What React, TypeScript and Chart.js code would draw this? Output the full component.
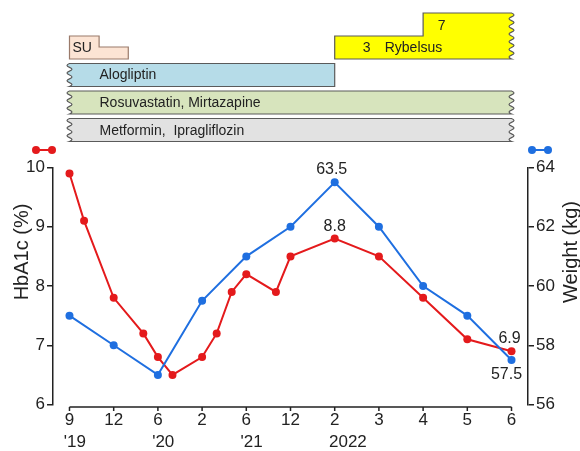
import React, { useEffect, useRef } from "react";
import { Chart, registerables } from "chart.js";

Chart.register(...registerables);

// ---- data ----
const monthTicks = ["9", "12", "6", "2", "6", "12", "2", "3", "4", "5", "6"];
const yearTicks = ["'19", "", "'20", "", "'21", "", "2022", "", "", "", ""];

const hba1cX = [0, 0.33, 1, 1.67, 2, 2.33, 3, 3.33, 3.67, 4, 4.67, 5, 6, 7, 8, 9, 10];
const hba1cValues = [9.9, 9.1, 7.8, 7.2, 6.8, 6.5, 6.8, 7.2, 7.9, 8.2, 7.9, 8.5, 8.8, 8.5, 7.8, 7.1, 6.9];

const weightX = [0, 1, 2, 3, 4, 5, 6, 7, 8, 9, 10];
const weightValues = [59, 58, 57, 59.5, 61, 62, 63.5, 62, 60, 59, 57.5];

const hba1cRange = [6, 10];
const weightRange = [56, 64];

const suPeriod = [0, 0.67, 1.33];
const rybelsusPeriod = [6, 8, 10];
const rybelsusDoses = ["3", "7"];
const alogliptinPeriod = [0, 6];
const continuingPeriod = [0, 10];

const RED = "#e41a1c";
const BLUE = "#1f6fe0";
const INK = "#222222";
const FONT = "'Liberation Sans', Arial, Helvetica, sans-serif";

function wave(ctx: CanvasRenderingContext2D, x: number, ya: number, yb: number) {
  const n = Math.max(2, Math.round(Math.abs(yb - ya) / 4));
  const h = (yb - ya) / n;
  for (let i = 0; i < n; i++) {
    const dir = i % 2 === 0 ? 1 : -1;
    ctx.quadraticCurveTo(x + dir * 5, ya + h * (i + 0.5), x, ya + h * (i + 1));
  }
}

function finish(ctx: CanvasRenderingContext2D, fill: string, stroke: string) {
  ctx.closePath();
  ctx.fillStyle = fill;
  ctx.fill();
  ctx.strokeStyle = stroke;
  ctx.lineWidth = 1.2;
  ctx.stroke();
}

const customPlugin = {
  id: "customDecor",
  beforeDatasetsDraw(chart: any) {
    const ctx: CanvasRenderingContext2D = chart.ctx;
    const xs = chart.scales.x;
    const area = chart.chartArea;
    const px = (v: number) => xs.getPixelForValue(v);
    ctx.save();

    // ---- medication bars ----
    const border = "#5a5a5a";
    // Metformin, Ipragliflozin
    {
      const x0 = px(continuingPeriod[0]), x1 = px(continuingPeriod[1]);
      const t = 118.5, b = 141.5;
      ctx.beginPath();
      ctx.moveTo(x0, t);
      ctx.lineTo(x1, t);
      wave(ctx, x1, t, b);
      ctx.lineTo(x0, b);
      wave(ctx, x0, b, t);
      finish(ctx, "#e2e2e2", border);
    }
    // Rosuvastatin, Mirtazapine
    {
      const x0 = px(continuingPeriod[0]), x1 = px(continuingPeriod[1]);
      const t = 91, b = 114;
      ctx.beginPath();
      ctx.moveTo(x0, t);
      ctx.lineTo(x1, t);
      wave(ctx, x1, t, b);
      ctx.lineTo(x0, b);
      wave(ctx, x0, b, t);
      finish(ctx, "#d7e4bd", border);
    }
    // Alogliptin
    {
      const x0 = px(alogliptinPeriod[0]), x1 = px(alogliptinPeriod[1]);
      const t = 63.5, b = 86.5;
      ctx.beginPath();
      ctx.moveTo(x0, t);
      ctx.lineTo(x1, t);
      ctx.lineTo(x1, b);
      ctx.lineTo(x0, b);
      wave(ctx, x0, b, t);
      finish(ctx, "#b6dce8", border);
    }
    // SU
    {
      const xa = px(suPeriod[0]), xb = px(suPeriod[1]), xc = px(suPeriod[2]);
      ctx.beginPath();
      ctx.moveTo(xa, 36);
      ctx.lineTo(xb, 36);
      ctx.lineTo(xb, 47);
      ctx.lineTo(xc, 47);
      ctx.lineTo(xc, 59);
      ctx.lineTo(xa, 59);
      finish(ctx, "#fce4d4", "#9a7a6a");
    }
    // Rybelsus
    {
      const xa = px(rybelsusPeriod[0]), xb = px(rybelsusPeriod[1]), xc = px(rybelsusPeriod[2]);
      ctx.beginPath();
      ctx.moveTo(xa, 59);
      ctx.lineTo(xa, 36);
      ctx.lineTo(xb, 36);
      ctx.lineTo(xb, 13);
      ctx.lineTo(xc, 13);
      wave(ctx, xc, 13, 59);
      ctx.lineTo(xa, 59);
      finish(ctx, "#ffff00", border);
    }

    // texts on bars
    ctx.fillStyle = INK;
    ctx.font = `14px ${FONT}`;
    ctx.textBaseline = "middle";
    ctx.textAlign = "left";
    const lx = px(continuingPeriod[0]) + 30;
    ctx.fillText("Metformin,  Ipragliflozin", lx, 131);
    ctx.fillText("Rosuvastatin, Mirtazapine", lx, 103);
    ctx.fillText("Alogliptin", lx, 75.5);
    ctx.fillText("SU", px(suPeriod[0]) + 3, 48);
    const ra = px(rybelsusPeriod[0]);
    ctx.textAlign = "center";
    ctx.fillText(rybelsusDoses[0], ra + 32, 48);
    ctx.fillText(rybelsusDoses[1], px(rybelsusPeriod[1]) + 18.5, 26);
    ctx.textAlign = "left";
    ctx.fillText("Rybelsus", ra + 50, 48);

    // ---- x axis line & ticks ----
    const ay = area.bottom + 2.5;
    ctx.strokeStyle = INK;
    ctx.lineWidth = 1.5;
    ctx.beginPath();
    ctx.moveTo(px(0), ay);
    ctx.lineTo(px(monthTicks.length - 1), ay);
    for (let i = 0; i < monthTicks.length; i++) {
      ctx.moveTo(px(i), ay);
      ctx.lineTo(px(i), ay + 4);
    }
    ctx.stroke();

    // year labels, left aligned with month labels
    ctx.font = `17px ${FONT}`;
    ctx.textAlign = "left";
    ctx.textBaseline = "middle";
    ctx.fillStyle = INK;
    for (let i = 0; i < yearTicks.length; i++) {
      if (!yearTicks[i]) continue;
      const w = ctx.measureText(monthTicks[i]).width;
      ctx.fillText(yearTicks[i], px(i) - w / 2 - 1, 442);
    }

    // axis titles
    ctx.font = `20px ${FONT}`;
    ctx.textAlign = "center";
    ctx.save();
    ctx.translate(22, 252);
    ctx.rotate(-Math.PI / 2);
    ctx.fillText("HbA1c (%)", 0, 0);
    ctx.restore();
    ctx.save();
    ctx.translate(571, 252);
    ctx.rotate(-Math.PI / 2);
    ctx.fillText("Weight (kg)", 0, 0);
    ctx.restore();

    // legend markers
    const marker = (cx: number, color: string) => {
      ctx.strokeStyle = color;
      ctx.fillStyle = color;
      ctx.lineWidth = 2;
      ctx.beginPath();
      ctx.moveTo(cx - 8, 150);
      ctx.lineTo(cx + 8, 150);
      ctx.stroke();
      for (const dx of [-8, 8]) {
        ctx.beginPath();
        ctx.arc(cx + dx, 150, 4, 0, Math.PI * 2);
        ctx.fill();
      }
    };
    marker(44, RED);
    marker(540, BLUE);

    ctx.restore();
  },
  afterDatasetsDraw(chart: any) {
    const ctx: CanvasRenderingContext2D = chart.ctx;
    const blue = chart.getDatasetMeta(0).data;
    const red = chart.getDatasetMeta(1).data;
    ctx.save();
    ctx.font = `16px ${FONT}`;
    ctx.fillStyle = INK;
    ctx.textAlign = "center";
    ctx.textBaseline = "middle";
    const b6 = blue[6];
    ctx.fillText(weightValues[6].toFixed(1), b6.x - 3, b6.y - 13);
    const r12 = red[12];
    ctx.fillText(hba1cValues[12].toFixed(1), r12.x, r12.y - 12);
    const rl = red[red.length - 1];
    ctx.fillText(hba1cValues[hba1cValues.length - 1].toFixed(1), rl.x - 2, rl.y - 13);
    const bl = blue[blue.length - 1];
    ctx.fillText(weightValues[weightValues.length - 1].toFixed(1), bl.x - 5, bl.y + 15);
    ctx.restore();
  },
};

export default function App() {
  const ref = useRef<HTMLCanvasElement | null>(null);

  useEffect(() => {
    document.body.style.margin = "0";
    const canvas = ref.current;
    if (!canvas) return;
    const chart = new Chart(canvas, {
      type: "line",
      data: {
        datasets: [
          {
            label: "Weight (kg)",
            data: weightX.map((x, i) => ({ x, y: weightValues[i] })),
            yAxisID: "y1",
            borderColor: BLUE,
            backgroundColor: BLUE,
            pointBackgroundColor: BLUE,
            pointBorderColor: BLUE,
            borderWidth: 2,
            pointRadius: 4,
            pointBorderWidth: 0,
            tension: 0,
          },
          {
            label: "HbA1c (%)",
            data: hba1cX.map((x, i) => ({ x, y: hba1cValues[i] })),
            yAxisID: "y",
            borderColor: RED,
            backgroundColor: RED,
            pointBackgroundColor: RED,
            pointBorderColor: RED,
            borderWidth: 2,
            pointRadius: 4,
            pointBorderWidth: 0,
            tension: 0,
          },
        ],
      },
      options: {
        animation: false,
        responsive: false,
        devicePixelRatio: 1,
        layout: { padding: { top: 167.5, left: 0, right: 0, bottom: 0 } },
        plugins: { legend: { display: false }, tooltip: { enabled: false } },
        scales: {
          x: {
            type: "linear",
            min: -0.373,
            max: 10.373,
            afterBuildTicks: (scale: any) => {
              scale.ticks = monthTicks.map((_, i) => ({ value: i }));
            },
            afterFit: (scale: any) => {
              scale.height = 46.5;
            },
            grid: { display: false, drawTicks: false },
            border: { display: false },
            ticks: {
              autoSkip: false,
              maxRotation: 0,
              padding: 6,
              color: INK,
              font: { family: FONT, size: 17 },
              callback: (_v: any, i: number) => monthTicks[i],
            },
          },
          y: {
            position: "left",
            min: hba1cRange[0],
            max: hba1cRange[1],
            afterFit: (scale: any) => {
              scale.width = 53;
            },
            grid: { drawOnChartArea: false, tickLength: 6, color: INK, lineWidth: 1.5 },
            border: { display: true, color: INK, width: 1.5 },
            ticks: {
              stepSize: 1,
              padding: 2,
              color: INK,
              font: { family: FONT, size: 17 },
            },
          },
          y1: {
            position: "right",
            min: weightRange[0],
            max: weightRange[1],
            afterFit: (scale: any) => {
              scale.width = 52;
            },
            grid: { drawOnChartArea: false, tickLength: 6, color: INK, lineWidth: 1.5 },
            border: { display: true, color: INK, width: 1.5 },
            ticks: {
              stepSize: 2,
              padding: 2,
              color: INK,
              font: { family: FONT, size: 17 },
            },
          },
        },
      },
      plugins: [customPlugin],
    });
    return () => chart.destroy();
  }, []);

  return (
    <div style={{ width: 580, height: 451, background: "#fff" }}>
      <canvas ref={ref} width={580} height={451} style={{ display: "block" }} />
    </div>
  );
}
